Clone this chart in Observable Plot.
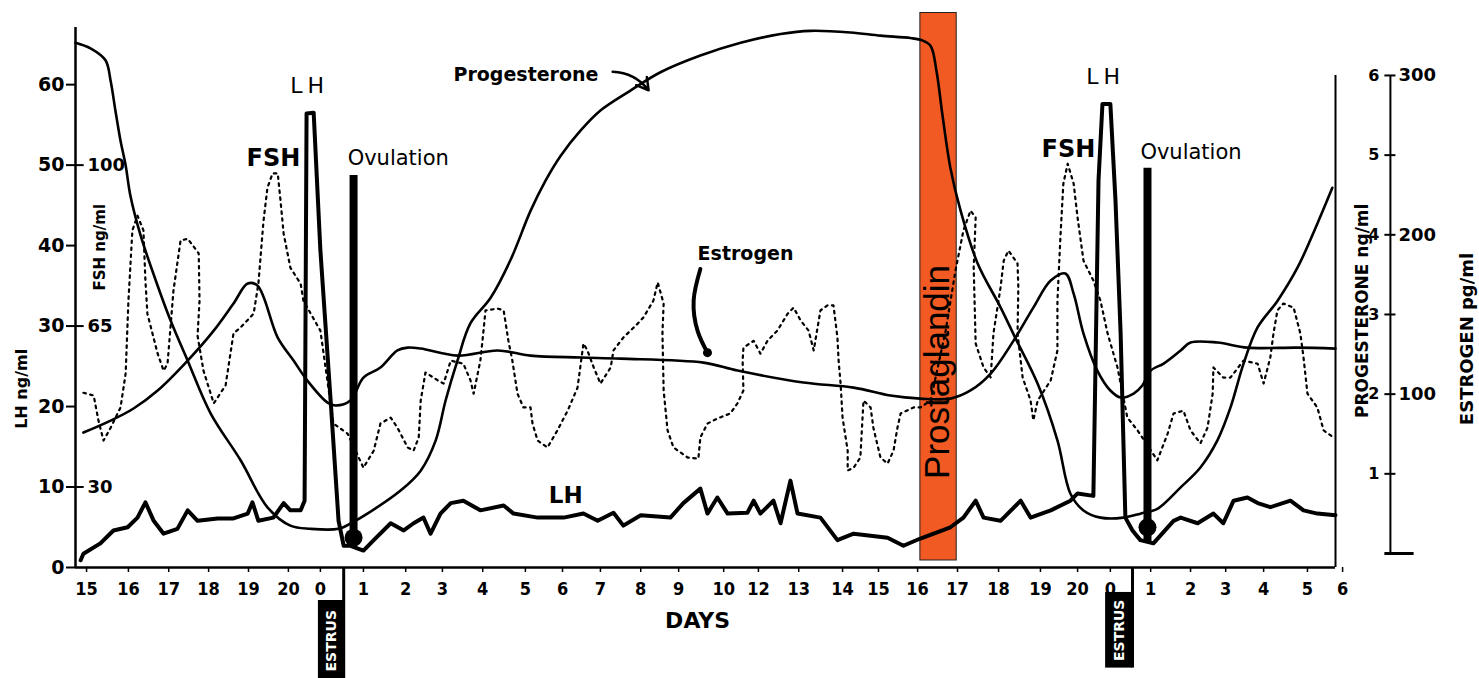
<!DOCTYPE html>
<html><head><meta charset="utf-8">
<script src="https://cdn.jsdelivr.net/npm/d3@7"></script>
<script src="https://cdn.jsdelivr.net/npm/@observablehq/plot@0.6"></script>
<style>html,body{margin:0;padding:0;background:#fff;} svg{display:block;}</style>
</head><body><div id="chart"></div>
<script>
// x is a running day index (0 = first "15"); tick labels are the cycle days
const dayLabels = ["15","16","17","18","19","20","0","1","2","3","4","5","6","7","8","9","10","12","13","14","15","16","17","18","19","20","0","1","2","3","4","5","6"];
const dayPos = [0,1.06,2.08,3.09,4.10,5.11,5.92,7.01,8.08,9.01,10.03,11.11,12.05,13.01,14.03,14.99,16.13,17.01,18.03,19.14,20.05,21.04,22.05,23.09,24.15,25.09,25.92,26.94,27.95,28.84,29.80,30.91,31.80];
const xDomain = [-0.28, 31.62];
const yDomain = [0, 67.1];
const lhTicks = [0,10,20,30,40,50,60];
const fshTicks = [30,65,100];
const progTicks = [1,2,3,4,5,6];
const estrTicks = [100,200,300];

// LH ng/ml
const lh = [[-0.15,0.9],[-0.08,1.7],[0.35,3.0],[0.68,4.6],[1.04,5.0],[1.29,6.2],[1.49,8.1],[1.70,5.8],[1.95,4.2],[2.30,4.8],[2.56,7.1],[2.81,5.8],[3.32,6.1],[3.72,6.1],[4.08,6.7],[4.20,8.1],[4.35,5.8],[4.73,6.2],[4.99,8.0],[5.16,7.1],[5.42,7.1],[5.52,8.3],[5.57,56.4],[5.75,56.5],[5.92,39.4],[6.18,20.7],[6.38,5.8],[6.51,2.7],[6.68,2.7],[7.01,2.1],[7.27,3.4],[7.70,5.5],[8.03,4.6],[8.28,5.5],[8.53,6.2],[8.71,4.2],[8.96,6.7],[9.22,8.0],[9.54,8.3],[9.97,7.1],[10.56,7.7],[10.81,6.7],[11.42,6.2],[12.08,6.2],[12.58,6.7],[12.94,5.8],[13.34,6.8],[13.59,5.2],[14.03,6.5],[14.78,6.2],[15.11,8.0],[15.54,9.8],[15.72,6.7],[15.97,8.7],[16.23,6.7],[16.73,6.8],[16.89,8.3],[17.06,6.7],[17.39,8.3],[17.57,5.5],[17.82,10.8],[18.00,6.7],[18.58,6.2],[19.01,3.4],[19.42,4.2],[20.28,3.7],[20.68,2.7],[21.11,3.6],[21.87,5.0],[22.20,6.2],[22.51,8.3],[22.71,6.2],[23.14,5.8],[23.65,8.3],[23.90,6.2],[24.41,7.1],[24.91,8.3],[25.09,9.2],[25.49,8.9],[25.62,48.1],[25.72,57.6],[25.92,57.6],[26.05,45.6],[26.18,29.1],[26.30,6.2],[26.48,4.6],[26.68,3.4],[27.01,3.0],[27.52,5.8],[27.70,6.2],[28.13,5.5],[28.53,6.7],[28.78,5.5],[29.04,8.3],[29.39,8.7],[29.65,8.0],[29.97,7.5],[30.48,8.3],[30.81,7.1],[31.16,6.7],[31.62,6.5]];

// Progesterone ng/ml
const progesterone = [[-0.28,6.41],[0.10,6.34],[0.48,6.19],[0.61,5.93],[0.73,5.56],[0.86,5.18],[0.99,4.87],[1.11,4.49],[1.37,3.99],[1.75,3.43],[2.13,2.92],[2.56,2.42],[3.14,1.76],[3.90,1.17],[4.58,0.58],[5.16,0.35],[5.67,0.31],[6.38,0.31],[6.73,0.39],[7.11,0.50],[7.95,0.79],[8.46,1.04],[8.84,1.42],[9.09,1.92],[9.39,2.42],[9.72,2.89],[10.23,3.21],[10.73,3.68],[11.24,4.30],[11.62,4.68],[12.00,4.99],[12.51,5.31],[13.01,5.56],[13.77,5.81],[14.53,6.04],[15.54,6.25],[16.56,6.41],[17.57,6.52],[18.33,6.56],[19.34,6.54],[20.10,6.50],[20.86,6.47],[21.16,6.44],[21.37,6.37],[21.52,6.05],[21.67,5.50],[21.87,4.84],[22.13,4.30],[22.56,3.64],[23.14,3.09],[23.52,2.70],[24.08,2.13],[24.58,1.42],[24.91,0.75],[25.24,0.54],[25.67,0.45],[26.25,0.45],[26.68,0.50],[27.11,0.56],[27.70,0.83],[28.20,1.08],[28.63,1.42],[28.96,1.83],[29.29,2.38],[29.65,2.84],[30.15,3.17],[30.66,3.59],[31.16,4.14],[31.54,4.59]];

// Estrogen pg/ml
const estrogen = [[-0.08,75.9],[0.61,83.4],[1.19,91.0],[1.80,102.3],[2.56,121.1],[3.22,139.9],[3.72,156.9],[4.08,169.4],[4.33,168.1],[4.84,135.5],[5.24,121.1],[5.59,108.5],[6.10,94.7],[6.30,92.9],[6.68,96.0],[7.01,110.4],[7.44,116.7],[7.87,127.4],[8.13,129.2],[8.46,128.6],[9.39,124.2],[10.41,127.4],[11.24,124.2],[12.51,123.0],[13.52,122.3],[15.62,119.8],[16.48,114.8],[18.15,107.3],[19.42,104.1],[20.35,99.1],[21.11,97.2],[21.87,97.2],[22.38,102.3],[22.89,112.9],[23.47,133.6],[23.97,154.3],[24.41,171.3],[24.78,175.7],[24.99,163.1],[25.24,138.0],[25.59,114.8],[25.92,102.3],[26.18,97.9],[26.51,100.4],[26.73,105.4],[26.94,114.8],[27.27,119.2],[27.70,127.4],[27.95,132.4],[28.63,132.4],[29.39,129.2],[30.66,129.2],[31.62,128.6]];

// FSH ng/ml
const fsh = [[-0.08,50.5],[0.18,49.9],[0.30,44.5],[0.43,40.1],[0.61,42.9],[0.86,47.3],[0.99,54.7],[1.06,70.5],[1.16,85.8],[1.29,89.0],[1.44,85.8],[1.49,74.9],[1.54,67.7],[1.80,59.0],[1.95,55.3],[2.05,56.8],[2.20,72.7],[2.38,83.6],[2.56,84.0],[2.84,80.8],[2.86,70.5],[2.81,62.9],[2.96,55.3],[3.22,48.2],[3.52,52.1],[3.72,63.4],[3.90,64.7],[4.23,67.7],[4.35,74.2],[4.48,87.9],[4.58,95.1],[4.71,98.2],[4.84,98.2],[4.91,92.3],[4.99,85.1],[5.16,77.7],[5.42,74.2],[5.49,70.5],[5.92,64.0],[6.25,43.8],[6.61,41.6],[7.01,34.2],[7.27,37.9],[7.44,43.8],[7.70,45.1],[7.87,42.9],[8.13,38.6],[8.28,37.9],[8.41,40.8],[8.46,48.8],[8.58,54.9],[8.89,53.2],[9.04,52.5],[9.22,57.5],[9.54,56.8],[9.72,53.2],[9.80,50.3],[9.97,57.5],[10.05,64.0],[10.10,68.4],[10.41,68.8],[10.56,68.4],[10.68,61.8],[10.78,57.5],[10.91,50.3],[11.06,47.3],[11.24,47.3],[11.29,43.8],[11.42,40.1],[11.67,38.6],[11.92,42.3],[12.18,46.6],[12.43,51.6],[12.58,61.2],[12.68,59.7],[12.84,56.0],[13.01,52.5],[13.27,56.0],[13.34,59.7],[13.59,62.5],[13.95,65.5],[14.10,66.9],[14.35,70.5],[14.46,74.5],[14.61,69.9],[14.58,63.4],[14.61,51.0],[14.71,42.3],[14.86,38.6],[15.22,36.4],[15.49,36.2],[15.54,40.8],[15.72,43.8],[15.97,44.9],[16.30,46.0],[16.48,48.2],[16.63,51.0],[16.61,57.5],[16.63,60.3],[16.89,61.8],[17.06,59.0],[17.24,61.8],[17.49,64.0],[17.75,67.7],[17.90,69.0],[18.08,66.2],[18.28,64.0],[18.41,59.7],[18.58,68.4],[18.76,69.5],[18.91,69.5],[19.01,62.5],[19.04,57.5],[19.09,52.5],[19.14,45.1],[19.27,37.9],[19.27,33.6],[19.42,34.2],[19.59,36.4],[19.67,48.8],[19.85,47.3],[19.92,42.9],[20.10,36.4],[20.28,35.1],[20.43,37.9],[20.53,42.9],[20.61,46.0],[20.94,47.3],[21.11,47.3],[21.37,48.8],[21.75,64.0],[22.00,77.1],[22.20,85.8],[22.38,90.1],[22.51,88.6],[22.46,77.7],[22.51,61.2],[22.71,56.0],[22.89,53.8],[22.96,63.4],[23.14,73.4],[23.22,79.2],[23.34,81.4],[23.57,78.6],[23.59,73.4],[23.57,63.4],[23.70,53.8],[23.90,48.8],[23.97,44.5],[24.08,48.8],[24.41,53.2],[24.58,59.7],[24.58,70.5],[24.66,85.1],[24.73,96.0],[24.84,100.3],[24.99,96.0],[25.09,88.6],[25.24,79.2],[25.49,74.9],[25.67,70.5],[25.85,63.4],[26.10,56.0],[26.35,45.1],[26.61,42.3],[27.11,35.8],[27.37,41.6],[27.52,46.0],[27.77,46.6],[27.95,42.3],[28.20,39.5],[28.38,42.9],[28.51,50.3],[28.53,56.0],[28.78,53.8],[28.96,53.8],[29.29,57.5],[29.65,56.8],[29.80,52.5],[29.97,58.2],[30.05,63.4],[30.15,68.4],[30.30,69.9],[30.56,69.0],[30.73,63.4],[30.81,58.2],[30.91,50.3],[31.16,47.3],[31.32,42.3],[31.57,40.8]];

const ovulation = [{day:6.76, top:48.7, base:2.7, blob:3.7},{day:26.86, top:49.6, base:3.0, blob:5.0}];
const prostaglandin = [{from:21.11, to:22.03, lo:0.87, hi:68.9, label:"Prostaglandin", mid:21.55, midY:24.3}];
const estrus = [{x1:5.87, x2:6.51, y1:-4.1, y2:-14.2, mid:-9.1},{x1:25.80, x2:26.48, y1:-3.1, y2:-12.5, mid:-7.8}];

const labelsBold = [
  {text:"FSH", x:4.73, y:50.9, size:24},
  {text:"FSH", x:24.86, y:52.0, size:24},
  {text:"LH", x:12.13, y:8.9, size:23},
  {text:"DAYS", x:15.47, y:-6.6, size:22}
];
const labelsPlain = [
  {text:"LH", x:5.65, y:59.8, size:22},
  {text:"LH", x:25.80, y:60.9, size:22}
];
const labelsStart = [
  {text:"Ovulation", x:6.61, y:50.8, size:21},
  {text:"Ovulation", x:26.68, y:51.6, size:21}
];
const labelsStartBold = [
  {text:"Progesterone", x:9.29, y:61.2, size:19},
  {text:"Estrogen", x:15.47, y:39.0, size:19}
];
const pointers = [{x1:13.32, y1:61.6, x2:14.23, y2:59.3}];
const estrogenPointer = [[15.54,37.1],[15.37,33.2],[15.47,29.4],[15.72,26.7]];

const axisTitles = [
  {text:"LH ng/ml", x:-1.65, y:22.2, size:16},
  {text:"FSH ng/ml", x:0.35, y:39.8, size:15},
  {text:"PROGESTERONE ng/ml", x:32.30, y:31.9, size:17},
  {text:"ESTROGEN pg/ml", x:34.96, y:28.4, size:18}
];
const rightAxisX = 33.01;

// secondary scales mapped onto the LH (left) axis
const yFromFSH = f => (f - 12.5) / 1.75;
const yFromP = p => 1.74 + 9.90 * p;
const yFromE = e => 1.74 + 0.198 * e;

const labelByPos = new Map(dayPos.map((p, i) => [p, dayLabels[i]]));
const FONT = "DejaVu Sans, Liberation Sans, sans-serif";

const chart = Plot.plot({
  width: 1479, height: 678,
  marginLeft: 75, marginRight: 144, marginTop: 27, marginBottom: 111,
  style: {fontFamily: FONT, background: "#fff", color: "#000", overflow: "visible"},
  x: {domain: xDomain},
  y: {domain: yDomain},
  marks: [
    Plot.rect(prostaglandin, {x1: "from", x2: "to", y1: "lo", y2: "hi", fill: "#F15A22", stroke: "#222", strokeWidth: 1}),
    Plot.text(prostaglandin, {x: "mid", y: "midY", text: "label", rotate: -90, fontSize: 35, fill: "#000", fontFamily: "Liberation Sans, Arial, sans-serif"}),
    // axes
    Plot.ruleX([xDomain[0]], {y1: 0, y2: yDomain[1], strokeWidth: 2.5}),
    Plot.ruleY([0], {strokeWidth: 2.5}),
    Plot.ruleX([xDomain[1]], {y1: 0, y2: yFromP(6), strokeWidth: 2}),
    Plot.axisY({ticks: lhTicks, tickSize: 9, tickPadding: 2, fontSize: 19, fontWeight: "bold", label: null, strokeWidth: 2}),
    Plot.ruleY(fshTicks, {y: yFromFSH, x1: xDomain[0], x2: xDomain[0] + 0.22, strokeWidth: 2}),
    Plot.text(fshTicks, {y: yFromFSH, x: xDomain[0], text: d => d, dx: 12, textAnchor: "start", fontSize: 18, fontWeight: "bold"}),
    Plot.axisX({ticks: dayPos, tickFormat: d => labelByPos.get(d), tickSize: 5, tickPadding: 10, fontSize: 18, fontWeight: "bold", fontFamily: "Liberation Sans Narrow, DejaVu Sans Condensed, sans-serif", label: null, strokeWidth: 1.5}),
    // right axis
    Plot.ruleX([rightAxisX], {y1: yFromP(0), y2: yFromP(6), strokeWidth: 2}),
    Plot.ruleY(progTicks, {y: yFromP, x1: rightAxisX - 0.14, x2: rightAxisX + 0.14, strokeWidth: 2}),
    Plot.ruleY([0], {y: yFromP, x1: rightAxisX - 0.14, x2: rightAxisX + 0.6, strokeWidth: 3}),
    Plot.text(progTicks, {y: yFromP, x: rightAxisX, text: d => d, dx: -11, textAnchor: "end", fontSize: 16, fontWeight: "bold"}),
    Plot.text(estrTicks, {y: yFromE, x: rightAxisX, text: d => d, dx: 8, textAnchor: "start", fontSize: 18, fontWeight: "bold"}),
    // axis titles
    Plot.text(axisTitles, {x: "x", y: "y", text: "text", fontSize: "size", rotate: -90, fontWeight: "bold"}),
    // estrus boxes
    Plot.rect(estrus, {x1: "x1", x2: "x2", y1: "y1", y2: "y2", fill: "#000"}),
    Plot.ruleX(estrus, {x: "x2", y1: 0, y2: "y2", strokeWidth: 3}),
    Plot.text(estrus, {x: d => (d.x1 + d.x2) / 2, y: "mid", text: () => "ESTRUS", rotate: -90, fill: "#fff", fontSize: 14, fontWeight: "bold"}),
    // curves
    Plot.line(fsh, {x: d => d[0], y: d => yFromFSH(d[1]), stroke: "#000", strokeWidth: 2.2, strokeDasharray: "2.5,4.5"}),
    Plot.line(estrogen, {x: d => d[0], y: d => yFromE(d[1]), stroke: "#000", strokeWidth: 2.6, curve: "catmull-rom"}),
    Plot.line(progesterone, {x: d => d[0], y: d => yFromP(d[1]), stroke: "#000", strokeWidth: 2.6, curve: "catmull-rom"}),
    Plot.line(lh, {x: d => d[0], y: d => d[1], stroke: "#000", strokeWidth: 4, strokeLinejoin: "round"}),
    Plot.ruleX(ovulation, {x: "day", y1: "base", y2: "top", strokeWidth: 8}),
    Plot.dot(ovulation, {x: "day", y: "blob", r: 9, fill: "#000"}),
    // annotations
    Plot.text(labelsBold, {x: "x", y: "y", text: "text", fontSize: "size", fontWeight: "bold"}),
    Plot.text(labelsPlain, {x: "x", y: "y", text: "text", fontSize: "size"}),
    Plot.text(labelsStart, {x: "x", y: "y", text: "text", fontSize: "size", textAnchor: "start"}),
    Plot.text(labelsStartBold, {x: "x", y: "y", text: "text", fontSize: "size", textAnchor: "start", fontWeight: "bold"}),
    Plot.arrow(pointers, {x1: "x1", y1: "y1", x2: "x2", y2: "y2", bend: 25, headLength: 10, strokeWidth: 2.5}),
    Plot.line(estrogenPointer, {x: d => d[0], y: d => d[1], curve: "natural", strokeWidth: 4}),
    Plot.dot(estrogenPointer.slice(-1), {x: d => d[0], y: d => d[1], r: 4.5, fill: "#000"})
  ]
});
document.getElementById("chart").appendChild(chart);
// the upper "LH" labels are letter-spaced in the original
chart.querySelectorAll("text").forEach(t => {
  if (t.textContent === "LH" && !t.closest("[font-weight='bold']")) t.setAttribute("letter-spacing", "5");
});
</script>
</body></html>
